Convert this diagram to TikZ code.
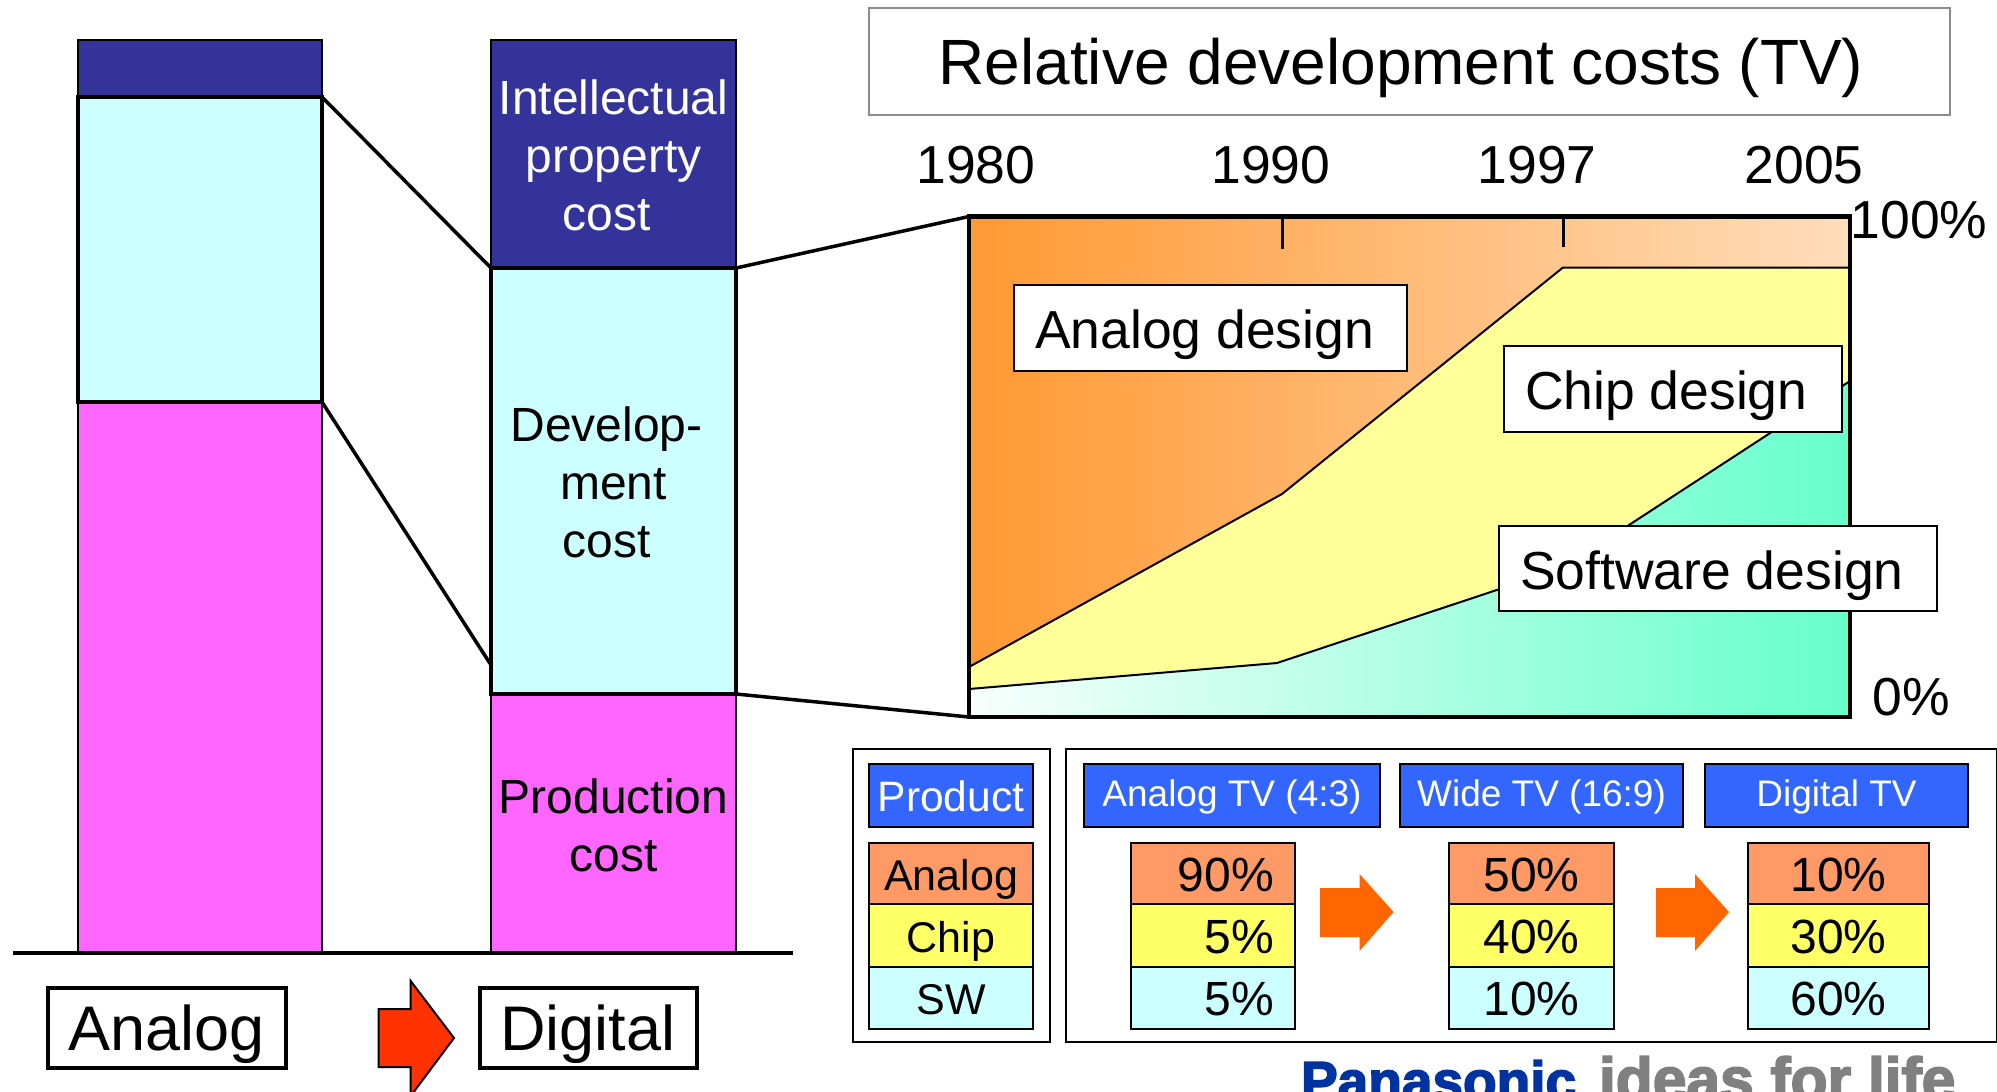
\documentclass[tikz,border=0pt]{standalone}
\usepackage{fontspec}
\setmainfont{Liberation Sans}
\newfontfamily\logofont[UprightFont=* Bold,FakeBold=3]{Liberation Sans}
\definecolor{navy}{HTML}{333399}
\definecolor{cyanc}{HTML}{CCFFFF}
\definecolor{magc}{HTML}{FF66FF}
\definecolor{orc}{HTML}{FF9966}
\definecolor{yec}{HTML}{FFFF66}
\definecolor{blc}{HTML}{3366FF}
\definecolor{aroc}{HTML}{FF6600}
\definecolor{redc}{HTML}{FF3300}
\definecolor{chartY}{HTML}{FFFF99}
\definecolor{pblue}{HTML}{0033A0}
\newcommand{\lsep}{\hspace*{14pt}}
\tikzset{
  every node/.append style={outer sep=0pt},
  barbox/.style={anchor=north west,inner sep=0pt,draw=black,line width=2pt},
  bartext/.style={inner sep=0pt,align=center,font=\fontsize{48}{58}\selectfont},
  cell/.style={anchor=north west,inner sep=0pt,draw=black,line width=2pt},
  celltext/.style={inner sep=0pt,font=\fontsize{43}{50}\selectfont},
  pct/.style={inner sep=0pt,font=\fontsize{48}{54}\selectfont},
  head/.style={anchor=north west,inner sep=0pt,draw=black,line width=2pt,fill=blc},
  headtext/.style={inner sep=0pt,text=white,font=\fontsize{37}{44}\selectfont},
  lab/.style={anchor=north west,inner sep=0pt,draw=black,line width=2pt,fill=white},
  labtext/.style={inner sep=0pt,anchor=base west,font=\fontsize{53.5}{60}\selectfont},
  big/.style={anchor=north west,inner sep=0pt,draw=black,line width=4pt,fill=white},
  bigtext/.style={inner sep=0pt,font=\fontsize{63}{72}\selectfont},
  yr/.style={inner sep=0pt,font=\fontsize{53.5}{60}\selectfont},
  conn/.style={line width=3.5pt,black},
  frameb/.style={anchor=north west,inner sep=0pt,draw=black,line width=2pt},
}
\begin{document}
\begin{tikzpicture}[x=1pt,y=-1pt]
\path[use as bounding box,fill=white] (0,0) rectangle (1997,1092);
% bars
\node[barbox,fill=navy,minimum width=244,minimum height=57] (lip) at (78,40) {};
\node[barbox,fill=magc,minimum width=244,minimum height=551] (lpr) at (78,402) {};
\node[barbox,fill=cyanc,minimum width=244,minimum height=305,line width=4pt] (ldv) at (78,97) {};
\node[barbox,fill=navy,minimum width=245,minimum height=228] (rip) at (491,40) {};
\node[barbox,fill=magc,minimum width=245,minimum height=259] (rpr) at (491,694) {};
\node[barbox,fill=cyanc,minimum width=245,minimum height=426,line width=4pt] (rdv) at (491,268) {};
\node[bartext,text=white] (tip) at (613.5,155) {Intellectual\\property\\cost\lsep};
\node[bartext] (tdv) at (613.5,482.5) {Develop-\lsep\\ment\\cost\lsep};
\node[bartext] (tpr) at (613.5,825) {Production\\cost};
\coordinate (axl) at (13,953);
\coordinate (axr) at (793,953);
\draw[line width=4.5pt] (axl) -- (axr);
\coordinate (rlow) at (491,665);
\draw[conn] (ldv.north east) -- (rdv.north west);
\draw[conn] (ldv.south east) -- (rlow);
% bottom labels
\node[big,minimum width=238,minimum height=80] (analog) at (47.5,988) {};
\node[big,minimum width=217,minimum height=80] (digital) at (479.5,988) {};
\node[bigtext] (tanalog) at (166.5,1034) {Analog};
\node[bigtext] (tdigital) at (588,1034) {Digital};
\draw[fill=redc,line width=2pt] (378.5,1009) -- (410.7,1009) -- (410.7,981) -- (454,1038) -- (410.7,1096) -- (410.7,1067) -- (378.5,1067) -- cycle;
% title
\node[anchor=north west,inner sep=0pt,draw=black!45,line width=2pt,minimum width=1081,minimum height=107] (title) at (869,8) {};
\node[inner sep=0pt,font=\fontsize{64}{76}\selectfont] (titletext) at (1401,68) {Relative development costs (TV)};
% years
\node[yr] (y80) at (976,165) {1980};
\node[yr] (y90) at (1271,165) {1990};
\node[yr] (y97) at (1537,165) {1997};
\node[yr] (y05) at (1804,165) {2005};
% chart
\coordinate (ctl) at (969,216.5);
\coordinate (ctr) at (1850,216.5);
\coordinate (cbr) at (1850,717);
\coordinate (cbl) at (969,717);
\shade[shading=axis,left color={rgb,255:red,247;green,255;blue,252},right color={rgb,255:red,102;green,255;blue,204}] (969,689) -- (1277,663) -- (1563,568) -- (1850,381) -- (cbr) -- (cbl) -- cycle;
\fill[chartY] (969,667) -- (1282,494) -- (1563,267.5) -- (1850,267.5) -- (1850,381) -- (1563,568) -- (1277,663) -- (969,689) -- cycle;
\shade[shading=axis,left color={rgb,255:red,255;green,153;blue,51},right color={rgb,255:red,255;green,221;blue,187}] (ctl) -- (ctr) -- (1850,267.5) -- (1563,267.5) -- (1282,494) -- (969,667) -- cycle;
\draw[line width=2pt] (969,667) -- (1282,494) -- (1563,267.5) -- (1850,267.5);
\draw[line width=2pt] (969,689) -- (1277,663) -- (1563,568) -- (1850,381);
\draw[line width=3pt] (1282.5,216.5) -- (1282.5,249);
\draw[line width=3pt] (1563,216.5) -- (1563,247);
\draw[line width=4.5pt] (ctl) -- (ctr) -- (cbr) -- (cbl) -- cycle;
\draw[conn] (rdv.north east) -- (ctl);
\draw[conn] (rdv.south east) -- (cbl);
\node[lab,minimum width=393,minimum height=86] (lana) at (1014,285) {};
\node[lab,minimum width=338,minimum height=86] (lchi) at (1504,346) {};
\node[lab,minimum width=438,minimum height=85] (lsof) at (1499,526) {};
\node[labtext] (tana) at (1035,348) {Analog design};
\node[labtext] (tchi) at (1525,409) {Chip design};
\node[labtext] (tsof) at (1520,589) {Software design};
\node[yr] (p100) at (1919,220) {100\%};
\node[yr] (p0) at (1911,697) {0\%};
% table frames
\node[frameb,minimum width=197.5,minimum height=293] (tl) at (852.5,749) {};
\node[frameb,minimum width=931,minimum height=293] (tr) at (1066,749) {};
% headers
\node[head,minimum width=164,minimum height=63] (hp) at (869,764) {};
\node[head,minimum width=296.5,minimum height=63] (h1) at (1083.5,764) {};
\node[head,minimum width=283,minimum height=63] (h2) at (1400,764) {};
\node[head,minimum width=263,minimum height=63] (h3) at (1705,764) {};
\node[headtext,font=\fontsize{42.5}{50}\selectfont] (thp) at (951,796) {Product};
\node[headtext] (th1) at (1232,797) {Analog TV (4:3)};
\node[headtext] (th2) at (1541.5,797) {Wide TV (16:9)};
\node[headtext] (th3) at (1836.5,797) {Digital TV};
% key column
\node[cell,fill=orc,minimum width=164,minimum height=61] (k1) at (869,843) {};
\node[cell,fill=yec,minimum width=164,minimum height=63] (k2) at (869,904) {};
\node[cell,fill=cyanc,minimum width=164,minimum height=62] (k3) at (869,967) {};
\node[celltext] (tk1) at (951,879) {Analog};
\node[celltext] (tk2) at (951,941) {Chip};
\node[celltext] (tk3) at (951,999.5) {SW};
% column 1
\node[cell,fill=orc,minimum width=164,minimum height=61] (a1) at (1131,843) {};
\node[cell,fill=yec,minimum width=164,minimum height=63] (a2) at (1131,904) {};
\node[cell,fill=cyanc,minimum width=164,minimum height=62] (a3) at (1131,967) {};
\node[pct,anchor=base east] (ta1) at (1274,891) {90\%};
\node[pct,anchor=base east] (ta2) at (1274,953) {5\%};
\node[pct,anchor=base east] (ta3) at (1274,1015) {5\%};
% column 2
\node[cell,fill=orc,minimum width=165,minimum height=61] (b1) at (1449,843) {};
\node[cell,fill=yec,minimum width=165,minimum height=63] (b2) at (1449,904) {};
\node[cell,fill=cyanc,minimum width=165,minimum height=62] (b3) at (1449,967) {};
\node[pct,anchor=base] (tb1) at (b1.center |- ta1.base) {50\%};
\node[pct,anchor=base] (tb2) at (b2.center |- ta2.base) {40\%};
\node[pct,anchor=base] (tb3) at (b3.center |- ta3.base) {10\%};
% column 3
\node[cell,fill=orc,minimum width=181,minimum height=61] (c1) at (1748,843) {};
\node[cell,fill=yec,minimum width=181,minimum height=63] (c2) at (1748,904) {};
\node[cell,fill=cyanc,minimum width=181,minimum height=62] (c3) at (1748,967) {};
\node[pct,anchor=base] (tc1) at (c1.center |- ta1.base) {10\%};
\node[pct,anchor=base] (tc2) at (c2.center |- ta2.base) {30\%};
\node[pct,anchor=base] (tc3) at (c3.center |- ta3.base) {60\%};
\fill[aroc] (1320,888) -- (1359.5,888) -- (1359.5,874) -- (1393.5,912) -- (1359.5,951) -- (1359.5,937) -- (1320,937) -- cycle;
\fill[aroc] (1656,888) -- (1695,888) -- (1695,874) -- (1729,912) -- (1695,951) -- (1695,937) -- (1656,937) -- cycle;
% logo
\node[anchor=base west,inner sep=0pt,text=pblue,font=\logofont\fontsize{55}{60}\selectfont] (pana) at (1301,1100) {Panasonic};
\node[anchor=base west,inner sep=0pt,text=black!50,font=\logofont\fontsize{60.5}{66}\selectfont] (idea) at (1599,1100) {ideas for life};
\end{tikzpicture}
\end{document}
